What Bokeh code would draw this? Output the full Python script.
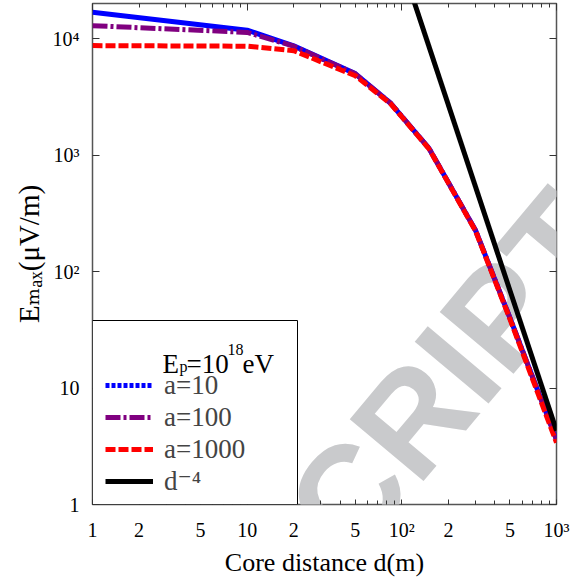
from bokeh.plotting import figure
from bokeh.models import (LogAxis, FixedTicker, Label, Legend, LegendItem,
                          BoxAnnotation, Range1d)
from bokeh.embed import file_html
from bokeh.resources import INLINE

# ---------------- data ----------------
distance = [1, 10, 20, 50, 85, 150, 300, 500, 1000]
emax_a10 = [16800, 11800, 8650, 5000, 2770, 1140, 225, 40, 3.6]
emax_a100 = [12900, 11300, 8600, 4980, 2770, 1140, 225, 40, 3.6]
emax_a1000 = [8700, 8600, 7870, 4800, 2740, 1130, 222, 39, 3.4]
ref_distance = [100, 1000]
ref_emax = [43000, 4.3]

x_label_ticks = [1, 2, 5, 10, 20, 50, 100, 200, 500, 1000]
x_tick_labels = ["1", "2", "5", "10", "2", "5", "10\u00b2", "2", "5", "10\u00b3"]
x_decades = [1, 10, 100, 1000]
x_minor = [2, 3, 4, 5, 6, 7, 8, 9, 20, 30, 40, 50, 60, 70, 80, 90,
           200, 300, 400, 500, 600, 700, 800, 900]
x_minor_bottom = [v for v in x_minor if v not in x_label_ticks]
y_major = [1, 10, 100, 1000, 10000]
y_major_labels = ["1", "10", "10\u00b2", "10\u00b3", "10\u2074"]

legend_labels = ["a=10", "a=100", "a=1000", "d\u207b\u2074"]

FONT = "Liberation Serif, DejaVu Serif"
BLUE, PURPLE, RED, BLACK = "#0000ff", "#800080", "#ff0000", "#000000"

p = figure(width=575, height=581, x_axis_type="log", y_axis_type="log",
           x_range=Range1d(1, 1000), y_range=Range1d(1, 2e4),
           output_backend="svg", toolbar_location=None,
           min_border_left=92, min_border_right=19, min_border_top=3,
           min_border_bottom=77)
p.grid.visible = False
p.outline_line_color = "#555555"
p.outline_line_width = 1.5


def style_axis(ax, ticker, major_len=7):
    ax.ticker = ticker
    ax.axis_line_color = None
    ax.major_tick_in = major_len
    ax.major_tick_out = 0
    ax.minor_tick_in = 4
    ax.minor_tick_out = 0
    ax.major_tick_line_color = "#333333"
    ax.minor_tick_line_color = "#333333"
    ax.major_label_text_font = FONT
    ax.major_label_text_font_size = "20px"
    ax.major_label_text_color = "black"


xb = p.below[0]
yl = p.left[0]
style_axis(xb, FixedTicker(ticks=x_label_ticks, minor_ticks=x_minor_bottom), major_len=5)
style_axis(yl, FixedTicker(ticks=y_major, minor_ticks=[]))
xb.major_label_overrides = dict(zip(x_label_ticks, x_tick_labels))
yl.major_label_overrides = dict(zip(y_major, y_major_labels))
xb.major_label_standoff = 14
yl.major_label_standoff = 13

xb.axis_label = "Core distance d(m)"
xb.axis_label_text_font = FONT
xb.axis_label_text_font_size = "26px"
xb.axis_label_text_font_style = "normal"
xb.axis_label_text_color = "black"
xb.axis_label_standoff = 4

yl.axis_label = "E\u2098\u2090\u2093(\u03bcV/m)"
yl.axis_label_text_font = FONT
yl.axis_label_text_font_size = "29px"
yl.axis_label_text_font_style = "normal"
yl.axis_label_text_color = "black"
yl.axis_label_standoff = 5

top = LogAxis()
style_axis(top, FixedTicker(ticks=x_decades, minor_ticks=x_minor))
top.major_label_text_font_size = "1px"
top.major_label_text_color = None
top.major_label_standoff = 0
p.add_layout(top, "above")
right = LogAxis()
style_axis(right, FixedTicker(ticks=y_major, minor_ticks=[]))
right.major_label_text_font_size = "1px"
right.major_label_text_color = None
right.major_label_standoff = 0
p.add_layout(right, "right")

# watermark (behind the data)
p.add_layout(Label(x=223, y=-152, x_units="screen", y_units="screen", text="SCRIPT",
                   angle=50, angle_units="deg", text_font="Liberation Sans",
                   text_font_style="bold", text_font_size="140px",
                   text_color="#c9cacc", level="underlay"))

# curves
r10 = p.line(distance, emax_a10, line_color=BLUE, line_width=5)
r100 = p.line(distance, emax_a100, line_color=PURPLE, line_width=5, line_dash="15 3 3 3")
r1000 = p.line(distance, emax_a1000, line_color=RED, line_width=5, line_dash="10 3")
rref = p.line(ref_distance, ref_emax, line_color=BLACK, line_width=5)
# legend key for a=10 (dotted sample as in the reference legend), not drawn in the plot
key10 = p.line(distance, emax_a10, line_color=BLUE, line_width=5, line_dash="4 2",
               visible=False)

# legend box
p.add_layout(BoxAnnotation(left=0, right=205, bottom=0, top=184, left_units="screen",
                           right_units="screen", bottom_units="screen", top_units="screen",
                           fill_color="white", fill_alpha=1, line_color="black",
                           line_width=1, line_alpha=1))

legend = Legend(items=[LegendItem(label=legend_labels[0], renderers=[key10]),
                       LegendItem(label=legend_labels[1], renderers=[r100]),
                       LegendItem(label=legend_labels[2], renderers=[r1000]),
                       LegendItem(label=legend_labels[3], renderers=[rref])],
                location=(13, 7), padding=0, margin=0, spacing=0,
                glyph_width=48, glyph_height=32, label_height=32, label_standoff=11,
                label_text_font=FONT, label_text_font_size="27px",
                border_line_color=None, background_fill_alpha=0,
                inactive_fill_alpha=0)
p.add_layout(legend)

# legend title E_p=10^18 eV
for txt, fx, fy, size in [("E", 70, 141, "27px"), ("p", 87, 138, "16px"),
                          ("=10", 94, 141, "27px"), ("18", 135, 155, "16px"),
                          ("eV", 150, 141, "27px")]:
    p.add_layout(Label(x=fx, y=fy, x_units="screen", y_units="screen", text=txt,
                       text_font=FONT, text_font_size=size, text_baseline="alphabetic",
                       text_color="black"))

open("out.html", "w").write(file_html(p, INLINE))
